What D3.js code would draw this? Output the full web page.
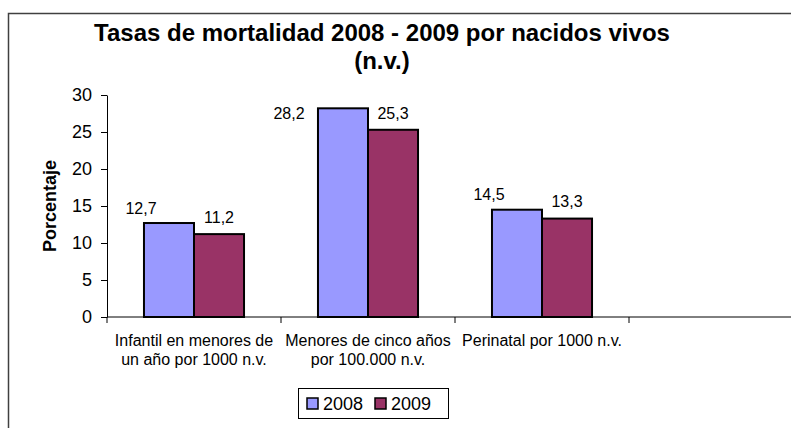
<!DOCTYPE html>
<html>
<head>
<meta charset="utf-8">
<script src="https://cdn.jsdelivr.net/npm/d3@7"></script>
<style>
  body { margin: 0; background: #fff; }
  svg { display: block; font-family: "Liberation Sans", Arial, sans-serif; }
</style>
</head>
<body>
<div id="app"></div>
<script>
const categories = [
  ["Infantil en menores de", "un año por 1000 n.v."],
  ["Menores de cinco años", "por 100.000 n.v."],
  ["Perinatal por 1000 n.v."],
  [""]
];
const series = ["2008", "2009"];
const values2008 = [12.7, 28.2, 14.5, null];
const values2009 = [11.2, 25.3, 13.3, null];
const yTicks = [0, 5, 10, 15, 20, 25, 30];
const colors = ["#9999FF", "#993366"];

const width = 791, height = 428;
const marginLeft = 107, marginTop = 95, plotBottom = 317;
const plotRight = 803;

const svg = d3.select("#app").append("svg")
  .attr("width", width).attr("height", height);

// marco
svg.append("rect")
  .attr("x", 8.5).attr("y", 13.5)
  .attr("width", 800).attr("height", 430)
  .attr("fill", "none").attr("stroke", "#404040").attr("stroke-width", 1.5);

const x = d3.scaleBand()
  .domain(d3.range(categories.length))
  .range([marginLeft, plotRight])
  .paddingInner(0).paddingOuter(0);

// grupo de barras: 100px de 174 por categoría
const groupW = x.bandwidth() * 0.575;
const barW = groupW / 2;

const y = d3.scaleLinear().domain([0, 30]).range([plotBottom, marginTop]);

// título
const title = svg.append("text")
  .attr("text-anchor", "middle")
  .attr("font-weight", "bold").attr("font-size", 24);
title.append("tspan").attr("x", 382).attr("y", 41).text("Tasas de mortalidad 2008 - 2009 por nacidos vivos");
title.append("tspan").attr("x", 382).attr("y", 69).text("(n.v.)");

// eje y
svg.append("g")
  .attr("transform", `translate(${marginLeft},0)`)
  .call(d3.axisLeft(y).tickValues(yTicks).tickSize(6).tickPadding(9).tickSizeOuter(0))
  .call(g => g.selectAll("text").attr("font-size", 18).attr("fill", "#000").attr("font-family", "inherit"))
  .call(g => g.selectAll("line, path").attr("stroke", "#000"));

svg.append("text")
  .attr("transform", `translate(56,206) rotate(-90)`)
  .attr("text-anchor", "middle")
  .attr("font-weight", "bold").attr("font-size", 18)
  .text("Porcentaje");

// barras
const data = [];
categories.forEach((c, i) => {
  [values2008[i], values2009[i]].forEach((v, j) => {
    if (v != null) data.push({ i, j, v });
  });
});

const barX = d => x(d.i) + (x.bandwidth() - groupW) / 2 + d.j * barW;

svg.append("g")
  .selectAll("rect")
  .data(data)
  .join("rect")
    .attr("x", barX)
    .attr("y", d => y(d.v))
    .attr("width", barW)
    .attr("height", d => y(0) - y(d.v))
    .attr("fill", d => colors[d.j])
    .attr("stroke", "#000")
    .attr("stroke-width", 2);

// etiquetas de valores (se limitan al borde superior del área)
const labelTop = 113;
const labelY = d => y(d.v) - (d.j === 0 ? 15 : 17);
svg.append("g")
  .attr("font-size", 16)
  .selectAll("text")
  .data(data)
  .join("text")
    .attr("text-anchor", "middle")
    .attr("dy", "0.35em")
    .attr("x", d => {
      const cx = barX(d) + barW / 2;
      if (d.j !== 0) return cx;
      return cx - (labelY(d) < labelTop ? 54 : 28);
    })
    .attr("y", d => Math.max(labelY(d), labelTop))
    .text(d => d3.format(".1f")(d.v).replace(".", ","));

// eje x
svg.append("g")
  .attr("transform", `translate(0,${plotBottom})`)
  .call(g => g.append("line")
    .attr("x1", marginLeft).attr("x2", plotRight)
    .attr("stroke", "#000"))
  .call(g => g.selectAll(".tick")
    .data(d3.range(categories.length + 1))
    .join("line")
      .attr("class", "tick")
      .attr("x1", d => marginLeft + d * x.step())
      .attr("x2", d => marginLeft + d * x.step())
      .attr("y1", 0).attr("y2", 6)
      .attr("stroke", "#000"));

const catLabels = svg.append("g")
  .attr("font-size", 16)
  .attr("text-anchor", "middle")
  .selectAll("text")
  .data(categories)
  .join("text")
    .attr("transform", (d, i) => `translate(${x(i) + x.bandwidth() / 2},0)`);
catLabels.selectAll("tspan")
  .data(d => d)
  .join("tspan")
    .attr("x", 0)
    .attr("y", (d, k) => 346 + k * 19)
    .text(d => d);

// leyenda
const legend = svg.append("g").attr("transform", "translate(298,388)");
legend.append("rect")
  .attr("x", 0.5).attr("y", 0.5).attr("width", 150).attr("height", 30)
  .attr("fill", "#fff").attr("stroke", "#000");
const item = legend.selectAll(".item")
  .data(series)
  .join("g")
    .attr("class", "item")
    .attr("transform", (d, i) => `translate(${9 + i * 68},0)`);
item.append("rect")
  .attr("x", 0).attr("y", 10).attr("width", 11).attr("height", 11)
  .attr("fill", (d, i) => colors[i]).attr("stroke", "#000").attr("stroke-width", 1.5);
item.append("text")
  .attr("x", 16).attr("y", 22)
  .attr("font-size", 18)
  .text(d => d);
</script>
</body>
</html>
